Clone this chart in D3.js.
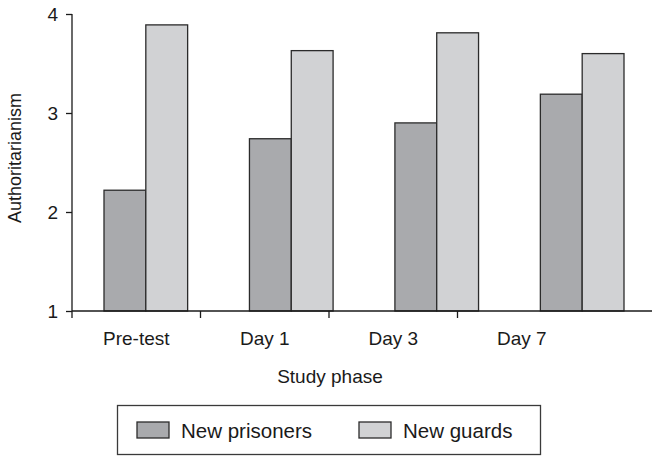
<!DOCTYPE html>
<html>
<head>
<meta charset="utf-8">
<script src="https://cdn.jsdelivr.net/npm/d3@7"></script>
<style>
  html, body { margin: 0; padding: 0; background: #fff; }
  text { font-family: "Liberation Sans", Arial, Helvetica, sans-serif; fill: #1a1a1a; }
</style>
</head>
<body>
<svg id="chart" width="652" height="456"></svg>
<script>
const categories = ["Pre-test", "Day 1", "Day 3", "Day 7"];
const seriesNames = ["New prisoners", "New guards"];
const prisoners = [2.22, 2.74, 2.90, 3.19];
const guards = [3.89, 3.63, 3.81, 3.60];
const yTicks = [1, 2, 3, 4];
const colors = ["#a9aaad", "#d1d2d4"];

const svg = d3.select("#chart");

const y = d3.scaleLinear().domain([1, 4]).range([311, 14]);
// axis bands (ticks at boundaries, labels centred)
const xAxisScale = d3.scaleBand().domain(categories).range([72, 586]).padding(0);
// bar groups
const xBars = d3.scaleBand().domain(categories).range([104, 624]).paddingInner(0.425).paddingOuter(0);
const xSub = d3.scaleBand().domain(seriesNames).range([0, xBars.bandwidth()]);

const data = categories.map((c, i) => ({cat: c, values: [prisoners[i], guards[i]]}));

// bars
const g = svg.append("g");
data.forEach(d => {
  d.values.forEach((v, j) => {
    g.append("rect")
      .attr("x", xBars(d.cat) + xSub(seriesNames[j]))
      .attr("y", y(v))
      .attr("width", xSub.bandwidth())
      .attr("height", y(1) - y(v))
      .attr("fill", colors[j])
      .attr("stroke", "#2b2b2b")
      .attr("stroke-width", 1.3);
  });
});

// y axis
const yAxis = d3.axisLeft(y).tickValues(yTicks).tickSize(6).tickPadding(8).tickFormat(d3.format("d"));
const ya = svg.append("g").attr("transform", "translate(72,0)").call(yAxis);
ya.select(".domain").attr("d", `M0,${y(4)}V${y(1) + 7}`).attr("stroke", "#1a1a1a").attr("stroke-width", 1.3);
ya.selectAll(".tick line").attr("stroke", "#1a1a1a").attr("stroke-width", 1.3);
ya.selectAll(".tick text").attr("font-size", 19).attr("font-family", "Liberation Sans, Arial, sans-serif").attr("fill", "#1a1a1a");

// x axis line
svg.append("line").attr("x1", 72).attr("x2", 652).attr("y1", y(1)).attr("y2", y(1))
  .attr("stroke", "#1a1a1a").attr("stroke-width", 1.3);
// x ticks at band boundaries
categories.slice(1).forEach(c => {
  svg.append("line").attr("x1", xAxisScale(c)).attr("x2", xAxisScale(c))
    .attr("y1", y(1)).attr("y2", y(1) + 7).attr("stroke", "#1a1a1a").attr("stroke-width", 1.3);
});
// x labels
categories.forEach(c => {
  svg.append("text").attr("x", xAxisScale(c) + xAxisScale.bandwidth() / 2).attr("y", 345)
    .attr("text-anchor", "middle").attr("font-size", 19).text(c);
});

// axis titles
svg.append("text").attr("x", 330).attr("y", 383).attr("text-anchor", "middle")
  .attr("font-size", 19).text("Study phase");
svg.append("text").attr("transform", "translate(21,158) rotate(-90)").attr("text-anchor", "middle")
  .attr("font-size", 18).text("Authoritarianism");

// legend
const leg = svg.append("g");
leg.append("rect").attr("x", 117.5).attr("y", 405.5).attr("width", 423).attr("height", 49)
  .attr("fill", "#fff").attr("stroke", "#3a3a3a").attr("stroke-width", 1.3);
const legX = [137, 359];
seriesNames.forEach((s, j) => {
  leg.append("rect").attr("x", legX[j]).attr("y", 422).attr("width", 32).attr("height", 16)
    .attr("fill", colors[j]).attr("stroke", "#2b2b2b").attr("stroke-width", 1.3);
  leg.append("text").attr("x", legX[j] + 44).attr("y", 437.5).attr("font-size", 20.5).text(s);
});
</script>
</body>
</html>
